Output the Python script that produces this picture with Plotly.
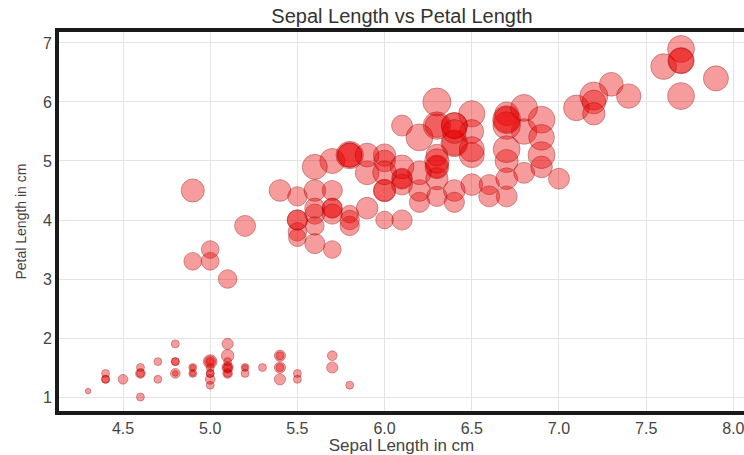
import plotly.graph_objects as go

# Iris data: sepal length, petal length, petal width (cm)
sepal_length = [
    5.1, 4.9, 4.7, 4.6, 5.0, 5.4, 4.6, 5.0, 4.4, 4.9, 5.4, 4.8, 4.8, 4.3, 5.8, 5.7, 5.4, 5.1, 5.7, 5.1,
    5.4, 5.1, 4.6, 5.1, 4.8, 5.0, 5.0, 5.2, 5.2, 4.7, 4.8, 5.4, 5.2, 5.5, 4.9, 5.0, 5.5, 4.9, 4.4, 5.1,
    5.0, 4.5, 4.4, 5.0, 5.1, 4.8, 5.1, 4.6, 5.3, 5.0,
    7.0, 6.4, 6.9, 5.5, 6.5, 5.7, 6.3, 4.9, 6.6, 5.2, 5.0, 5.9, 6.0, 6.1, 5.6, 6.7, 5.6, 5.8, 6.2, 5.6,
    5.9, 6.1, 6.3, 6.1, 6.4, 6.6, 6.8, 6.7, 6.0, 5.7, 5.5, 5.5, 5.8, 6.0, 5.4, 6.0, 6.7, 6.3, 5.6, 5.5,
    5.5, 6.1, 5.8, 5.0, 5.6, 5.7, 5.7, 6.2, 5.1, 5.7,
    6.3, 5.8, 7.1, 6.3, 6.5, 7.6, 4.9, 7.3, 6.7, 7.2, 6.5, 6.4, 6.8, 5.7, 5.8, 6.4, 6.5, 7.7, 7.7, 6.0,
    6.9, 5.6, 7.7, 6.3, 6.7, 7.2, 6.2, 6.1, 6.4, 7.2, 7.4, 7.9, 6.4, 6.3, 6.1, 7.7, 6.3, 6.4, 6.0, 6.9,
    6.7, 6.9, 5.8, 6.8, 6.7, 6.7, 6.3, 6.5, 6.2, 5.9,
]
petal_length = [
    1.4, 1.4, 1.3, 1.5, 1.4, 1.7, 1.4, 1.5, 1.4, 1.5, 1.5, 1.6, 1.4, 1.1, 1.2, 1.5, 1.3, 1.4, 1.7, 1.5,
    1.7, 1.5, 1.0, 1.7, 1.9, 1.6, 1.6, 1.5, 1.4, 1.6, 1.6, 1.5, 1.5, 1.4, 1.5, 1.2, 1.3, 1.4, 1.3, 1.5,
    1.3, 1.3, 1.3, 1.6, 1.9, 1.4, 1.6, 1.4, 1.5, 1.4,
    4.7, 4.5, 4.9, 4.0, 4.6, 4.5, 4.7, 3.3, 4.6, 3.9, 3.5, 4.2, 4.0, 4.7, 3.6, 4.4, 4.5, 4.1, 4.5, 3.9,
    4.8, 4.0, 4.9, 4.7, 4.3, 4.4, 4.8, 5.0, 4.5, 3.5, 3.8, 3.7, 3.9, 5.1, 4.5, 4.5, 4.7, 4.4, 4.1, 4.0,
    4.4, 4.6, 4.0, 3.3, 4.2, 4.2, 4.2, 4.3, 3.0, 4.1,
    6.0, 5.1, 5.9, 5.6, 5.8, 6.6, 4.5, 6.3, 5.8, 6.1, 5.1, 5.3, 5.5, 5.0, 5.1, 5.3, 5.5, 6.7, 6.9, 5.0,
    5.7, 4.9, 6.7, 4.9, 5.7, 6.0, 4.8, 4.9, 5.6, 5.8, 6.1, 6.4, 5.6, 5.1, 5.6, 6.1, 5.6, 5.5, 4.8, 5.4,
    5.6, 5.1, 5.1, 5.9, 5.7, 5.2, 5.0, 5.2, 5.4, 5.1,
]
petal_width = [
    0.2, 0.2, 0.2, 0.2, 0.2, 0.4, 0.3, 0.2, 0.2, 0.1, 0.2, 0.2, 0.1, 0.1, 0.2, 0.4, 0.4, 0.3, 0.3, 0.3,
    0.2, 0.4, 0.2, 0.5, 0.2, 0.2, 0.4, 0.2, 0.2, 0.2, 0.2, 0.4, 0.1, 0.2, 0.2, 0.2, 0.2, 0.1, 0.2, 0.2,
    0.3, 0.3, 0.2, 0.6, 0.4, 0.3, 0.2, 0.2, 0.2, 0.2,
    1.4, 1.5, 1.5, 1.3, 1.5, 1.3, 1.6, 1.0, 1.3, 1.4, 1.0, 1.5, 1.0, 1.4, 1.3, 1.4, 1.5, 1.0, 1.5, 1.1,
    1.8, 1.3, 1.5, 1.2, 1.3, 1.4, 1.4, 1.7, 1.5, 1.0, 1.1, 1.0, 1.2, 1.6, 1.5, 1.6, 1.5, 1.3, 1.3, 1.3,
    1.2, 1.4, 1.2, 1.0, 1.3, 1.2, 1.3, 1.3, 1.1, 1.3,
    2.5, 1.9, 2.1, 1.8, 2.2, 2.1, 1.7, 1.8, 1.8, 2.5, 2.0, 1.9, 2.1, 2.0, 2.4, 2.3, 1.8, 2.2, 2.3, 1.5,
    2.3, 2.0, 2.0, 1.8, 2.1, 1.8, 1.8, 1.8, 2.1, 1.6, 1.9, 2.0, 2.2, 1.5, 1.4, 2.3, 2.4, 1.8, 1.8, 2.1,
    2.4, 2.3, 1.9, 2.3, 2.5, 2.3, 1.9, 2.0, 2.3, 1.8,
]

x_ticks = [4.5, 5.0, 5.5, 6.0, 6.5, 7.0, 7.5, 8.0]
x_tick_text = ["4.5", "5.0", "5.5", "6.0", "6.5", "7.0", "7.5", "8.0"]
y_ticks = [1, 2, 3, 4, 5, 6, 7]

FONT = "Arial, 'Liberation Sans', sans-serif"
size_max = 28

fig = go.Figure(
    go.Scatter(
        x=sepal_length,
        y=petal_length,
        mode="markers",
        marker=dict(
            size=petal_width,
            sizemode="area",
            sizeref=2 * max(petal_width) / size_max ** 2,
            color="rgba(235,0,0,0.55)",
            line=dict(color="rgba(140,0,0,0.55)", width=1),
        ),
        showlegend=False,
    )
)

fig.update_layout(
    width=744,
    height=455,
    margin=dict(l=59, r=0, t=32, b=44),
    paper_bgcolor="white",
    plot_bgcolor="white",
    font=dict(family=FONT, color="#444444"),
    title=dict(
        text="Sepal Length vs Petal Length",
        x=402 / 744,
        xanchor="center",
        xref="container",
        yref="container",
        y=1 - 16 / 455,
        yanchor="middle",
        font=dict(size=20, color="#333333", family=FONT),
    ),
    xaxis=dict(
        range=[4.133, 8.061],
        tickvals=x_ticks,
        ticktext=x_tick_text,
        ticklabeloverflow="allow",
        showgrid=True,
        gridcolor="#e3e3e3",
        gridwidth=1,
        zeroline=False,
        showline=True,
        linecolor="#1a1a1a",
        linewidth=4,
        mirror=True,
        ticks="",
        tickfont=dict(size=16, color="#444444"),
        title=dict(text="Sepal Length in cm", font=dict(size=17, color="#444444"), standoff=5),
    ),
    yaxis=dict(
        range=[0.763, 7.186],
        tickvals=y_ticks,
        showgrid=True,
        gridcolor="#e3e3e3",
        gridwidth=1,
        zeroline=False,
        showline=True,
        linecolor="#1a1a1a",
        linewidth=4,
        mirror=False,
        ticks="",
        tickfont=dict(size=16, color="#444444"),
    ),
    annotations=[
        dict(
            text="Petal Length in cm",
            textangle=-90,
            xref="paper",
            yref="paper",
            x=-(59 - 20) / 685,
            y=0.5,
            xanchor="center",
            yanchor="middle",
            showarrow=False,
            font=dict(size=14, color="#444444", family=FONT),
        )
    ],
)

fig.write_html("out.html")
